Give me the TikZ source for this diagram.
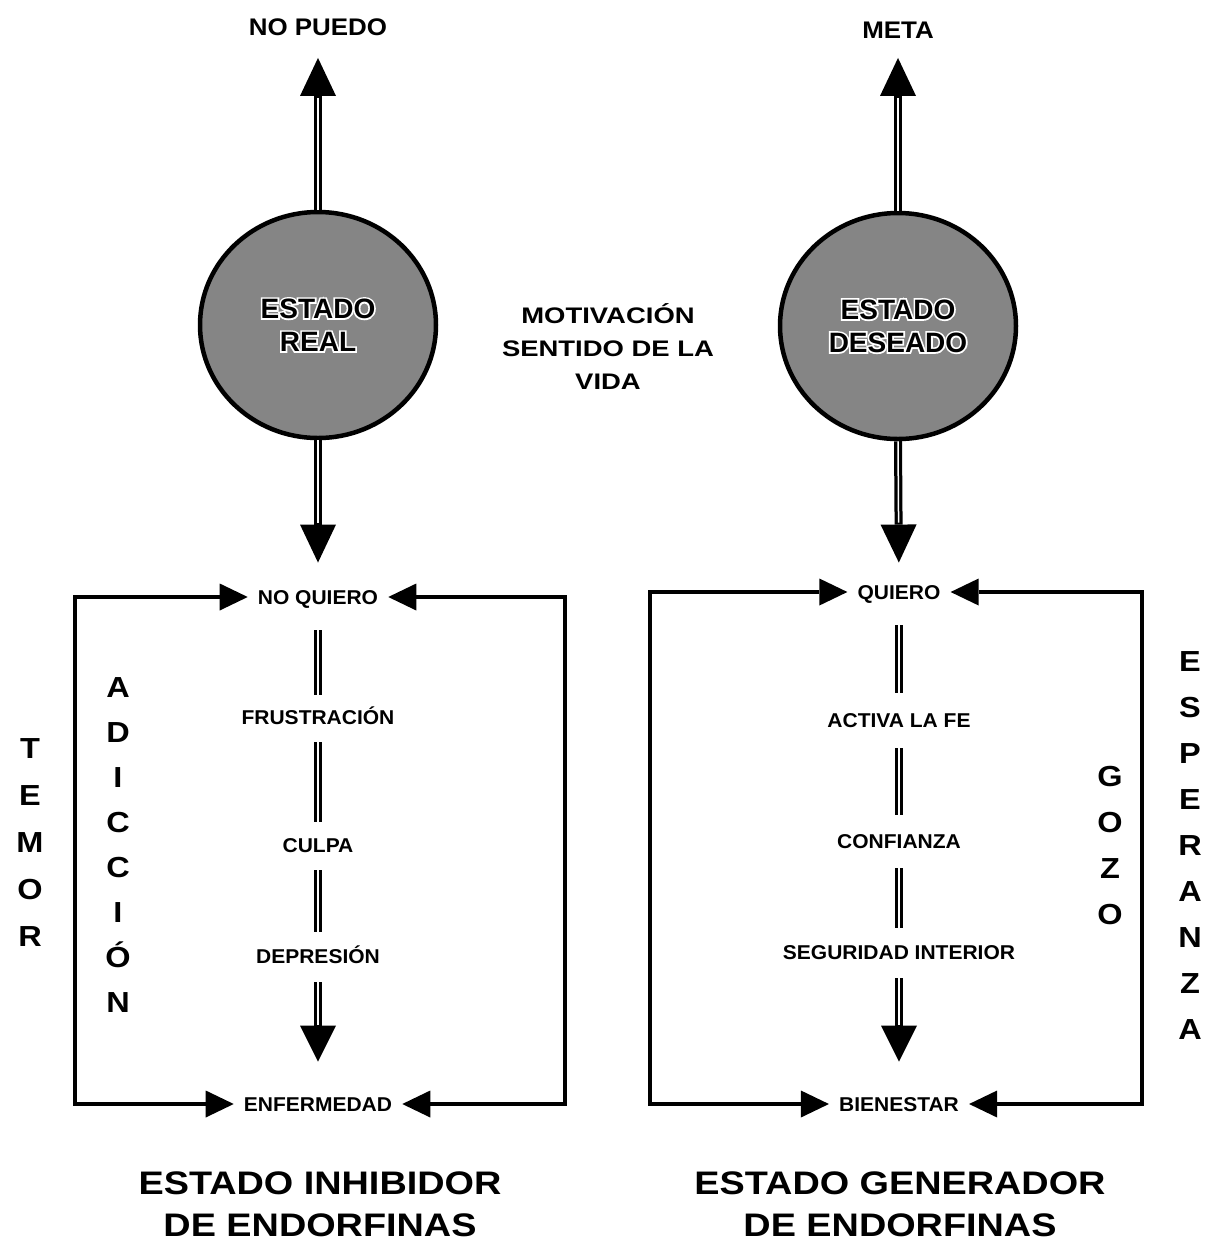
\documentclass[tikz,border=0pt]{standalone}
\usepackage{fontspec}
\setmainfont{Liberation Sans}
\newfontfamily\lblfont{Liberation Sans}[FakeStretch=1.05]
\newfontfamily\headfont{Liberation Sans}[FakeStretch=1.08]
\newfontfamily\midfont{Liberation Sans}[FakeStretch=1.22]
\newfontfamily\titlefont{Liberation Sans}[FakeStretch=1.16]
\newfontfamily\letterfont{Liberation Sans}[FakeStretch=1.12]
\newfontfamily\halofont{Liberation Sans}[FakeBold=12]
\usetikzlibrary{arrows.meta,shapes.geometric}

\begin{document}
\begin{tikzpicture}[x=1pt,y=-1pt,
  lbl/.style={font=\lblfont\bfseries\fontsize{20}{24}\selectfont,
    inner xsep=10pt, inner ysep=0pt, text height=14.5pt, text depth=0pt},
  toplbl/.style={font=\headfont\bfseries\fontsize{24}{28}\selectfont,
    inner sep=0pt, text height=17.5pt, text depth=0pt},
  state/.style={ellipse, draw, line width=4.5pt, fill=black!48,
    minimum width=236pt, minimum height=226pt, inner sep=0pt},
  statetext/.style={align=center, inner sep=0pt,
    font=\bfseries\fontsize{28}{33}\selectfont},
  statehalo/.style={align=center, inner sep=0pt, text=white,
    font=\halofont\bfseries\fontsize{28}{33}\selectfont},
  midtext/.style={align=center, inner sep=0pt,
    font=\midfont\bfseries\fontsize{22.5}{33}\selectfont},
  vletters/.style={align=center, inner sep=0pt,
    font=\letterfont\bfseries\fontsize{29}{#1}\selectfont},
  titletext/.style={align=center, inner sep=0pt,
    font=\titlefont\bfseries\fontsize{32.6}{42}\selectfont},
  bigarrow/.style={line width=8pt,
    -{Triangle[width=36pt,length=38pt,line width=0pt]}},
  core/.style={white, line width=1.5pt},
  chain/.style={double, double distance=2pt, line width=3pt},
  chaintip/.style={line width=8pt,
    -{Triangle[width=36pt,length=36pt,line width=0pt]}},
  chaincore/.style={white, line width=2pt},
  loopline/.style={line width=4pt, line join=miter,
    {Triangle[width=27pt,length=28pt,line width=0pt]}-{Triangle[width=27pt,length=28pt,line width=0pt]}}
]
\fill[white] (0,0) rectangle (1213,1243);
\useasboundingbox (0,0) rectangle (1213,1243);

% ---------- left side: estado real ----------
\node[state] (real) at (318,325) {};
\node[statehalo] (realhalo) at (real.center) {ESTADO\\REAL};
\node[statetext] (realtxt) at (real.center) {ESTADO\\REAL};

\node[toplbl] (np) at (318,27) {NO PUEDO};
\node[lbl] (nq) at (318,597) {NO QUIERO};
\node[lbl] (fr) at (318,717) {FRUSTRACIÓN};
\node[lbl] (cu) at (318,845) {CULPA};
\node[lbl] (de) at (318,956) {DEPRESIÓN};
\node[lbl] (en) at (318,1104) {ENFERMEDAD};

\draw[bigarrow, shorten >=22pt] (real.north) -- (np.south);
\draw[core, shorten >=62pt] (real.north) -- (np.south);
\draw[bigarrow, shorten >=27pt] (real.south) -- (nq.north);
\draw[core, shorten >=67pt] (real.south) -- (nq.north);

\draw[chain, shorten <=26pt, shorten >=15pt] (nq) -- (fr);
\draw[chain, shorten <=18pt, shorten >=16pt] (fr) -- (cu);
\draw[chain, shorten <=18pt, shorten >=17pt] (cu) -- (de);
\draw[chaintip, shorten <=19pt, shorten >=35pt] (de) -- (en);
\draw[chaincore, shorten <=19pt, shorten >=72pt] (de) -- (en);

\coordinate (lxa) at (75,597);
\coordinate (rxa) at (565,597);
\draw[loopline] (nq.west) -| (lxa) |- (en.west);
\draw[loopline] (nq.east) -| (rxa) |- (en.east);

\node[vletters=47] (temor) at (30,842.5) {T\\E\\M\\O\\R};
\node[vletters=45] (adic) at (118,845.5) {A\\D\\I\\C\\C\\I\\Ó\\N};

\node[titletext] (tleft) at (320,1204) {ESTADO INHIBIDOR\\DE ENDORFINAS};

% ---------- centre ----------
\node[midtext] (mot) at (608,347) {MOTIVACIÓN\\SENTIDO DE LA\\VIDA};

% ---------- right side: estado deseado ----------
\node[state] (des) at (898,326) {};
\node[statehalo] (deshalo) at (des.center) {ESTADO\\DESEADO};
\node[statetext] (destxt) at (des.center) {ESTADO\\DESEADO};

\node[toplbl] (meta) at (898,30) {META};
\node[lbl] (qu) at (899,592) {QUIERO};
\node[lbl] (af) at (899,720) {ACTIVA LA FE};
\node[lbl] (co) at (899,841) {CONFIANZA};
\node[lbl] (se) at (899,952) {SEGURIDAD INTERIOR};
\node[lbl] (bi) at (899,1104) {BIENESTAR};

\draw[bigarrow, shorten >=19pt] (des.north) -- (meta.south);
\draw[core, shorten >=59pt] (des.north) -- (meta.south);
\draw[bigarrow, shorten >=22pt] (des.south) -- (qu.north);
\draw[core, shorten >=62pt] (des.south) -- (qu.north);

\draw[chain, shorten <=26pt, shorten >=20pt] (qu) -- (af);
\draw[chain, shorten <=21pt, shorten >=19pt] (af) -- (co);
\draw[chain, shorten <=20pt, shorten >=17pt] (co) -- (se);
\draw[chaintip, shorten <=19pt, shorten >=35pt] (se) -- (bi);
\draw[chaincore, shorten <=19pt, shorten >=72pt] (se) -- (bi);

\coordinate (lxb) at (650,592);
\coordinate (rxb) at (1142,592);
\draw[loopline] (qu.west) -| (lxb) |- (bi.west);
\draw[loopline] (qu.east) -| (rxb) |- (bi.east);

\node[vletters=46.3] (gozo) at (1110,845.5) {G\\O\\Z\\O};
\node[vletters=46] (esper) at (1190,846) {E\\S\\P\\E\\R\\A\\N\\Z\\A};

\node[titletext] (tright) at (900,1204) {ESTADO GENERADOR\\DE ENDORFINAS};
\end{tikzpicture}
\end{document}
